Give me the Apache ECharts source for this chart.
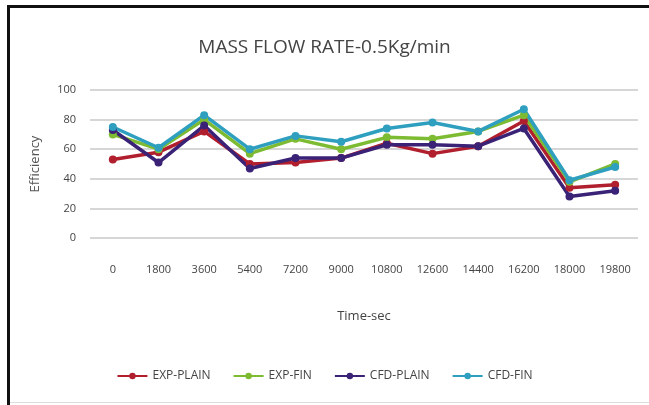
<!DOCTYPE html>
<html><head><meta charset="utf-8">
<script src="https://cdn.jsdelivr.net/npm/echarts@6/dist/echarts.min.js"></script>
<style>
html,body{margin:0;padding:0;background:#fff;}
#c{width:649px;height:405px;position:absolute;left:0;top:0;}
#frame{position:absolute;left:7px;top:5px;width:660px;height:420px;border-left:3px solid #111;border-top:3px solid #111;pointer-events:none;}
#bot{position:absolute;left:10px;top:402px;width:640px;height:1px;background:#ddd;}
</style></head>
<body>
<div id="c"></div><div id="frame"></div><div id="bot"></div>
<script>
var categories = ['0','1800','3600','5400','7200','9000','10800','12600','14400','16200','18000','19800'];
var expPlain = [53, 58, 72, 50, 51, 54, 64, 57, 62, 79, 34, 36];
var expFin   = [70, 60, 80, 57, 67, 60, 68, 67, 72, 83, 38, 50];
var cfdPlain = [73, 51, 76, 47, 54, 54, 63, 63, 62, 74, 28, 32];
var cfdFin   = [75, 61, 83, 60, 69, 65, 74, 78, 72, 87, 39, 48];
var yTicks = [0, 20, 40, 60, 80, 100];

var font = '"Liberation Sans Narrow", "Open Sans", sans-serif';
function s(name, data, color) {
  return {name: name, type: 'line', data: data, symbol: 'circle', symbolSize: 8,
    lineStyle: {width: 3.5, color: color}, itemStyle: {color: color}, z: 2};
}
var chart = echarts.init(document.getElementById('c'));
chart.setOption({
  animation: false,
  title: {text: 'MASS FLOW RATE-0.5Kg/min', left: 'center', top: 33,
    textStyle: {fontFamily: font, fontSize: 19, fontWeight: 'normal', color: '#444'}},
  grid: {left: 90, right: 11, top: 90, bottom: 167},
  legend: {bottom: 18, left: 'center', itemWidth: 30, itemHeight: 8, itemGap: 22,
    textStyle: {fontFamily: font, fontSize: 12, color: '#444'},
    data: ['EXP-PLAIN', 'EXP-FIN', 'CFD-PLAIN', 'CFD-FIN']},
  xAxis: {type: 'category', data: categories, boundaryGap: true,
    name: 'Time-sec', nameLocation: 'middle', nameGap: 72,
    nameTextStyle: {fontFamily: font, fontSize: 13, color: '#444'},
    axisLine: {show: false}, axisTick: {show: false},
    axisLabel: {fontFamily: font, fontSize: 11, color: '#444', margin: 26, interval: 0}},
  yAxis: {type: 'value', min: 0, max: 100, interval: 20,
    name: 'Efficiency', nameLocation: 'middle', nameGap: 48, nameRotate: 90,
    nameTextStyle: {fontFamily: font, fontSize: 13, color: '#555'},
    axisLine: {show: false}, axisTick: {show: false},
    axisLabel: {fontFamily: font, fontSize: 11, color: '#444', margin: 14,
      formatter: function (v) { return yTicks.indexOf(v) >= 0 ? String(v) : ''; }},
    splitLine: {lineStyle: {color: '#c8c8c8', width: 1.5}}},
  series: [
    s('EXP-PLAIN', expPlain, '#b11f2e'),
    s('EXP-FIN', expFin, '#7dbb32'),
    s('CFD-PLAIN', cfdPlain, '#3a2277'),
    s('CFD-FIN', cfdFin, '#2f9fbf')
  ]
});
</script>
</body></html>
